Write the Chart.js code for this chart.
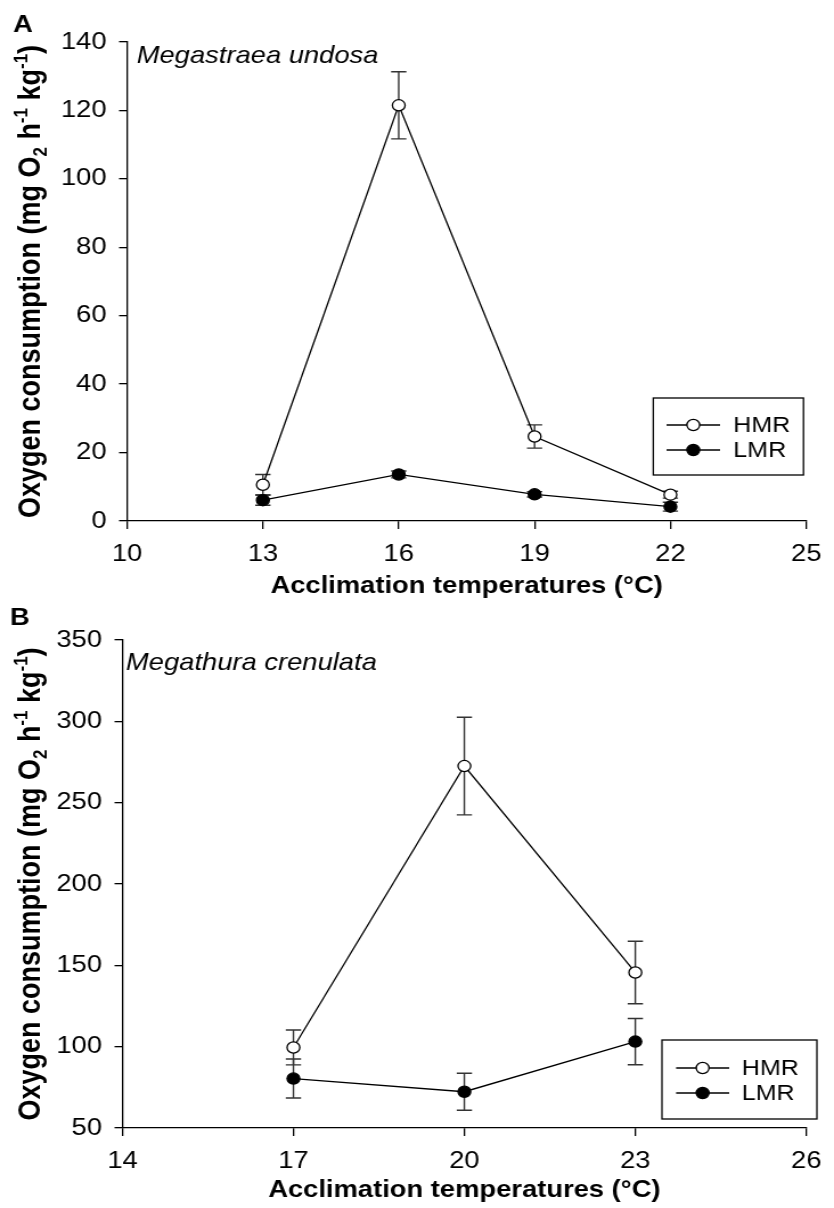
<!DOCTYPE html>
<html>
<head>
<meta charset="utf-8">
<script src="https://cdn.jsdelivr.net/npm/chart.js@4.4.0/dist/chart.umd.min.js"></script>
<style>
  html, body { margin: 0; padding: 0; background: #fff; }
  canvas { position: absolute; left: 0; }
</style>
</head>
<body>
<!-- drawn at 732px wide and stretched to 834px, the reference figure is wide-scaled -->
<canvas id="chartA" width="732" height="604" style="top:0;width:834px;height:604px"></canvas>
<canvas id="chartB" width="732" height="604" style="top:604px;width:834px;height:604px"></canvas>
<script>
const FONT = "'Liberation Sans', Arial, Helvetica, sans-serif";

// Panel A - Megastraea undosa
const tempsA = [13, 16, 19, 22];
const hmrA = [10.6, 121.5, 24.7, 7.7];
const hmrErrA = [3, 9.8, 3.4, 1];
const lmrA = [6.1, 13.6, 7.8, 4.2];
const lmrErrA = [1.5, 1, 0.8, 1.3];
const xTicksA = [10, 13, 16, 19, 22, 25];
const yTicksA = [0, 20, 40, 60, 80, 100, 120, 140];

// Panel B - Megathura crenulata
const tempsB = [17, 20, 23];
const hmrB = [99.5, 272.5, 145.6];
const hmrErrB = [10.7, 30, 19.2];
const lmrB = [80.4, 72.3, 103.1];
const lmrErrB = [12, 11.4, 14.2];
const xTicksB = [14, 17, 20, 23, 26];
const yTicksB = [50, 100, 150, 200, 250, 300, 350];

const seriesNames = ['HMR', 'LMR'];
const xTitle = 'Acclimation temperatures (°C)';

const pts = (xs, ys) => xs.map((x, i) => ({ x: x, y: ys[i] }));

// vertical error bars with caps, drawn under the markers
const errorBars = {
  id: 'errorBars',
  beforeDatasetsDraw(chart) {
    const { ctx } = chart;
    const x = chart.scales.x, y = chart.scales.y;
    ctx.save();
    ctx.strokeStyle = '#333';
    ctx.lineWidth = 1.4;
    chart.data.datasets.forEach(ds => {
      ds.data.forEach((p, i) => {
        const e = ds.errors[i];
        const px = x.getPixelForValue(p.x);
        const top = y.getPixelForValue(p.y + e);
        const bot = y.getPixelForValue(p.y - e);
        ctx.beginPath();
        ctx.moveTo(px, top); ctx.lineTo(px, bot);
        ctx.moveTo(px - 6.7, top); ctx.lineTo(px + 6.7, top);
        ctx.moveTo(px - 6.7, bot); ctx.lineTo(px + 6.7, bot);
        ctx.stroke();
      });
    });
    ctx.restore();
  }
};

// y title with sub/superscripts
function drawYTitle(ctx, x, yMid, size) {
  const parts = [
    ['Oxygen consumption (mg O', 0],
    ['2', -1],
    [' h', 0],
    ['-1', 1],
    [' kg', 0],
    ['-1', 1],
    [')', 0]
  ];
  const small = Math.round(size * 0.62);
  const fontFor = k => 'bold ' + (k === 0 ? size : small) + 'px ' + FONT;
  let total = 0;
  parts.forEach(p => { ctx.font = fontFor(p[1]); total += ctx.measureText(p[0]).width; });
  ctx.save();
  ctx.translate(x, yMid);
  ctx.rotate(-Math.PI / 2);
  ctx.fillStyle = '#000';
  ctx.textBaseline = 'alphabetic';
  ctx.textAlign = 'left';
  let cx = -total / 2;
  parts.forEach(p => {
    ctx.font = fontFor(p[1]);
    let dy = 0;
    if (p[1] === -1) dy = size * 0.22;
    if (p[1] === 1) dy = -size * 0.4;
    ctx.fillText(p[0], cx, dy);
    cx += ctx.measureText(p[0]).width;
  });
  ctx.restore();
}

const deco = {
  id: 'deco',
  afterDraw(chart, args, opts) {
    const { ctx, chartArea } = chart;
    ctx.save();
    ctx.fillStyle = '#000';
    ctx.textBaseline = 'alphabetic';
    ctx.textAlign = 'left';
    ctx.font = 'bold 24px ' + FONT;
    ctx.fillText(opts.letter, opts.letterX, opts.letterY);
    ctx.font = 'italic 24px ' + FONT;
    ctx.fillText(opts.species, opts.speciesX, opts.speciesY);
    drawYTitle(ctx, 35, (chartArea.top + chartArea.bottom) / 2, 27);

    // legend box
    const L = opts.legend;
    ctx.strokeStyle = '#000';
    ctx.lineWidth = 1.3;
    ctx.strokeRect(L.x, L.y, L.w, L.h);
    ctx.font = '22px ' + FONT;
    ctx.textBaseline = 'middle';
    chart.data.datasets.forEach((ds, i) => {
      const ry = L.rows[i];
      ctx.beginPath();
      ctx.moveTo(L.x0, ry); ctx.lineTo(L.x1, ry);
      ctx.stroke();
      ctx.beginPath();
      ctx.arc((L.x0 + L.x1) / 2, ry, 5.6, 0, Math.PI * 2);
      ctx.fillStyle = ds.pointBackgroundColor;
      ctx.fill();
      ctx.stroke();
      ctx.fillStyle = '#000';
      ctx.fillText(ds.label, L.tx, ry + 1);
    });
    ctx.restore();
  }
};

function makeChart(id, p) {
  return new Chart(document.getElementById(id), {
    type: 'line',
    data: {
      datasets: [
        {
          label: seriesNames[0], data: pts(p.temps, p.hmr), errors: p.hmrErr,
          borderColor: '#000', borderWidth: 1.3, tension: 0, fill: false,
          pointRadius: 5.6, pointBackgroundColor: '#fff', pointBorderColor: '#000', pointBorderWidth: 1.3
        },
        {
          label: seriesNames[1], data: pts(p.temps, p.lmr), errors: p.lmrErr,
          borderColor: '#000', borderWidth: 1.3, tension: 0, fill: false,
          pointRadius: 5.6, pointBackgroundColor: '#000', pointBorderColor: '#000', pointBorderWidth: 1.3
        }
      ]
    },
    options: {
      responsive: false,
      animation: false,
      devicePixelRatio: 1,
      layout: { padding: { left: 0, top: p.top, right: 12, bottom: 0 } },
      scales: {
        x: {
          type: 'linear', min: p.xTicks[0], max: p.xTicks[p.xTicks.length - 1],
          afterBuildTicks: s => { s.ticks = p.xTicks.map(v => ({ value: v })); },
          afterFit: s => { s.height = p.xh; },
          ticks: { font: { family: FONT, size: 24 }, color: '#000', padding: 11, maxRotation: 0, autoSkip: false },
          grid: { drawOnChartArea: false, drawTicks: true, tickLength: 8, color: '#000', lineWidth: 1.3 },
          border: { color: '#000', width: 1.3 },
          title: { display: true, text: xTitle, color: '#000',
                   font: { family: FONT, size: 24, weight: 'bold' }, padding: { top: 0, bottom: 3 } }
        },
        y: {
          min: p.yTicks[0], max: p.yTicks[p.yTicks.length - 1],
          afterBuildTicks: s => { s.ticks = p.yTicks.map(v => ({ value: v })); },
          afterFit: s => { s.width = p.yw; },
          ticks: { font: { family: FONT, size: 24 }, color: '#000', padding: 11 },
          grid: { drawOnChartArea: false, drawTicks: true, tickLength: 7, color: '#000', lineWidth: 1.3 },
          border: { color: '#000', width: 1.3 }
        }
      },
      plugins: {
        legend: { display: false },
        tooltip: { enabled: false },
        deco: p.deco
      }
    },
    plugins: [errorBars, deco]
  });
}

makeChart('chartA', {
  temps: tempsA, hmr: hmrA, hmrErr: hmrErrA, lmr: lmrA, lmrErr: lmrErrA,
  xTicks: xTicksA, yTicks: yTicksA, top: 42, xh: 83, yw: 111.5,
  deco: {
    letter: 'A', letterX: 11.4, letterY: 32,
    species: 'Megastraea undosa', speciesX: 120, speciesY: 63,
    legend: { x: 573.4, y: 398, w: 131.8, h: 77, rows: [425, 450], x0: 585, x1: 632, tx: 643.6 }
  }
});

makeChart('chartB', {
  temps: tempsB, hmr: hmrB, hmrErr: hmrErrB, lmr: lmrB, lmrErr: lmrErrB,
  xTicks: xTicksB, yTicks: yTicksB, top: 36, xh: 80, yw: 107.5,
  deco: {
    letter: 'B', letterX: 8.8, letterY: 21,
    species: 'Megathura crenulata', speciesX: 110.6, speciesY: 66,
    legend: { x: 581, y: 436, w: 136, h: 79, rows: [464, 489], x0: 593.4, x1: 640, tx: 651 }
  }
});
</script>
</body>
</html>
